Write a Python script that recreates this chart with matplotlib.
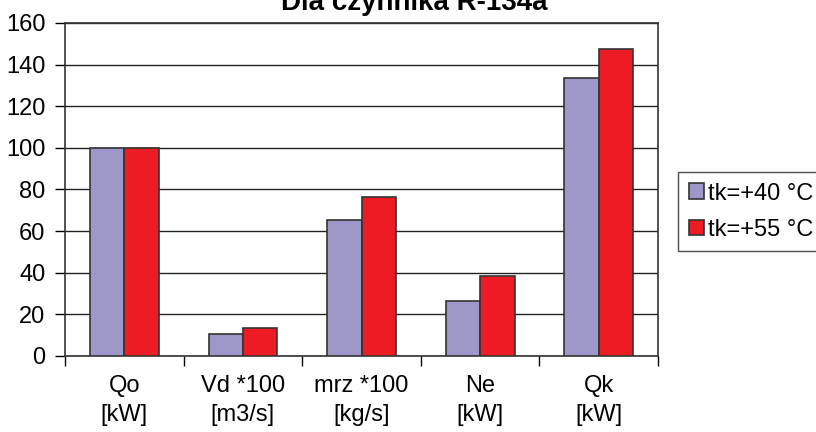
import numpy as np
import matplotlib
matplotlib.use('Agg')
import matplotlib.pyplot as plt

plt.rcParams['font.family'] = ['Liberation Sans', 'DejaVu Sans']

# kategorie i wyniki dla dwoch temperatur skraplania
categories = ['Qo\n[kW]', 'Vd *100\n[m3/s]', 'mrz *100\n[kg/s]', 'Ne\n[kW]', 'Qk\n[kW]']
tk40 = [100, 10.4, 65.2, 26.4, 133.5]
tk55 = [100, 13.2, 76.6, 38.6, 147.3]
series_labels = ['tk=+40 °C', 'tk=+55 °C']
yticks = [0, 20, 40, 60, 80, 100, 120, 140, 160]

fig = plt.figure(figsize=(8.16, 4.32), dpi=100)
ax = fig.add_axes([0.0797, 0.176, 0.7267, 0.771])

x = np.arange(len(categories))
w = 0.29
ax.bar(x - w / 2, tk40, w, color='#9D98C8', edgecolor='#333333', linewidth=1.2,
       label=series_labels[0], zorder=3)
ax.bar(x + w / 2, tk55, w, color='#ED1C24', edgecolor='#333333', linewidth=1.2,
       label=series_labels[1], zorder=3)

ax.set_xlim(-0.5, len(categories) - 0.5)
ax.set_ylim(0, 160)
ax.set_yticks(yticks)
ax.tick_params(axis='y', direction='out', length=7, width=1, labelsize=17, pad=7)

# etykiety kategorii pod srodkiem grup, kreski na granicach
ax.set_xticks(np.arange(len(categories) + 1) - 0.5)
ax.set_xticklabels([])
ax.set_xticks(x, minor=True)
ax.set_xticklabels(categories, minor=True, fontsize=17, linespacing=1.4)
ax.tick_params(axis='x', which='major', direction='out', length=7, width=1)
ax.tick_params(axis='x', which='minor', length=0, pad=14)

ax.yaxis.grid(True, color='#222222', linewidth=1)
ax.set_axisbelow(True)
for s in ax.spines.values():
    s.set_color('#333333')
    s.set_linewidth(1.2)

fig.text(0.508, 0.978, 'Dla czynnika R-134a', ha='center', va='baseline',
         fontsize=20, fontweight='bold')

leg = ax.legend(loc='upper left', bbox_to_anchor=(0.831, 0.602),
                bbox_transform=fig.transFigure, fontsize=17, frameon=True,
                fancybox=False, edgecolor='#222222', handlelength=0.65,
                handleheight=0.65, handletextpad=0.15, labelspacing=0.6,
                borderpad=0.45, borderaxespad=0)
leg.get_frame().set_linewidth(1)

fig.savefig('out.png', dpi=100)
